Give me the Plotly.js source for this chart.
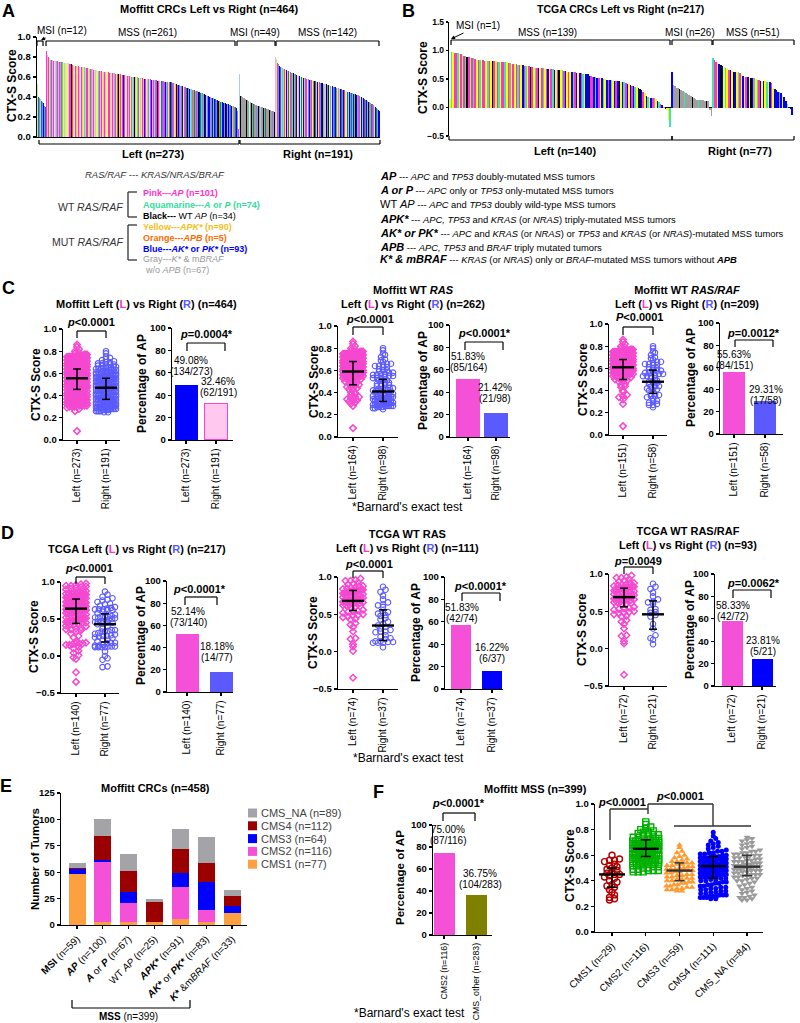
<!DOCTYPE html>
<html>
<head>
<meta charset="utf-8">
<script src="https://cdn.plot.ly/plotly-3.0.1.min.js"></script>
<style>html,body{margin:0;padding:0;background:#fff}#chart{width:800px;height:1023px}</style>
</head>
<body>
<div id="chart"></div>
<script>
// ================= DATA =================
// Panel A : Moffitt CTX-S scores per tumour (waterfall order) + mutation-group code per tumour
const moffittLeftMSI = [.53,.41,.40,.39,.38,.37,.36,.35,.34,.33,.31,.30];
const moffittLeftMSIType = "LBTbcBTbBcbT";
const moffittLeftMSS = [.86,.84,.82,.80,.79,.78,
.77,.77,.77,.76,.76,.76,.76,.76,.76,.76,
.75,.75,.75,.75,.75,.75,.75,.74,.74,.74,.74,.74,.74,.74,.74,
.73,.73,.73,.73,.72,.72,.72,.72,.72,.71,.71,.71,.71,.71,.70,.70,.70,.70,.70,.70,.70,.70,
.69,.69,.69,.69,.69,.68,.68,.68,.68,.68,.68,.67,.67,.67,.67,.67,.66,.66,.66,.66,.66,.66,.66,
.65,.65,.65,.65,.65,.65,.65,.65,.65,.64,.64,.64,.64,.64,.64,.64,.64,.64,
.63,.63,.63,.63,.63,.63,.63,.62,.62,.62,.62,.62,.62,.62,.61,.61,.61,.61,.61,.61,.61,.60,.60,.60,.60,.60,.60,.60,
.60,.60,.59,.59,.59,.59,.59,.59,.59,.59,.58,.58,.58,.58,
.58,.58,.58,.58,.58,.58,.57,.57,.57,.57,.57,.57,.57,.57,.57,.56,.56,.56,.56,.56,.56,.56,.56,.56,.55,.55,.55,.55,.55,.55,.55,.55,
.55,.55,.54,.54,.54,.54,.53,.53,.53,.53,.52,.52,.52,.52,.51,.51,.51,.51,.50,.50,.50,.50,.49,.49,.49,.49,.48,
.48,.48,.48,.47,.47,.47,.47,.46,.46,.46,.46,.45,.45,.45,.44,.44,.44,.43,.43,
.43,.42,.42,.42,.41,.41,.41,.40,.40,.40,.39,.39,.39,.38,
.38,.38,.37,.37,.37,.36,.36,.36,.35,.35,.35,.35,.34,.34,
.34,.34,.33,.33,.33,.33,.32,.32,.32,.31,.31,.31,.30,.30,
.30,.29,.28,.26,.08];
const moffittLeftMSSType = "PPpPLpAPpYPaPpAPYpPA"+"pPAYPpLaPYpPAPKpPYaP"+"PpYAPpaLPpYPAgPpPYAp"+"PAYpPLPpaYPAPpGPYpAP"+
"pPYaPAPpLYPpAbPYPaKp"+"PAYPpBPaYLPpAPYbPpAK"+"PpYAbPaPcYPLpBPAYpbP"+"aPBYpPcAbPYKPpBaTPYb"+"PBpAbYGPBTaPbYBpKcPB"+
"bAAPBcYbPBTKbpBcABbO"+"BTGPBbKBcTAbBGKBYcbB"+"TBGKbBAGBTbcBKOBTABc"+"BbKTBGGBbTKBcOGbTBKb"+"P";
const moffittRightMSI = [.63,.42,.41,.41,.40,.40,.39,.39,.38,.38,.37,.37,.36,.36,.35,.35,.35,.34,.34,.33,
.33,.33,.32,.32,.32,.31,.31,.31,.31,.30,.30,.30,.30,.29,.29,.29,.29,.28,.28,.28,.28,.27,.27,.27,.26,.26,.26,.25,.25];
const moffittRightMSIType = "cGKGGTGGbGKGGGaGGKGTGGGbGGKGGcGGGKGGTGGaGKGGGbGTK";
const moffittRightMSS = [.80,.78,.75,.74,.73,.72,.71,.70,.70,.69,
.69,.68,.68,.67,.67,.67,.66,.66,.66,.65,
.65,.65,.64,.64,.64,.63,.63,.63,.62,.62,
.62,.61,.61,.61,.60,.60,.60,.60,.59,.59,
.59,.59,.58,.58,.58,.58,.57,.57,.57,.57,
.57,.56,.56,.56,.56,.56,.55,.55,.55,.55,
.55,.54,.54,.54,.54,.53,.53,.53,.53,.53,
.52,.52,.52,.52,.51,.51,.51,.51,.50,.50,
.50,.50,.49,.49,.49,.49,.48,.48,.48,.48,
.47,.47,.47,.47,.46,.46,.46,.46,.45,.45,
.45,.44,.44,.44,.44,.43,.43,.43,.43,.42,
.42,.42,.42,.41,.41,.40,.40,.40,.39,.39,
.38,.38,.37,.37,.36,.36,.35,.35,.34,.34,
.33,.33,.32,.32,.31,.30,.30,.29,.28,.27,
.27,.26];
const moffittRightMSSType = "pLaPbPBTpYAcPbYBpaTY"+"PBbAKTAPcBYpbBaTPYBc"+"BPPaTbBGcPYBbKTApBYc"+"PbBTKAcBpKbTBYPGaBcb"+
"TBPbYGApBTKbBPGYaBTc"+"BPbTAYBGKpBGbTPaBYcB"+"bTPBGAKbBGTPYbaBcTGB"+"KB";

// Panel B : TCGA CTX-S scores
const tcgaLeftMSI = [.15];
const tcgaLeftMSIType = "Y";
const tcgaLeftMSS = [.98,.97,.96,.95,.95,.94,.93,.92,.91,.90,
.88,.88,.87,.86,.86,.85,.84,.84,.83,.83,
.83,.82,.82,.82,.82,.81,.81,.81,.81,.80,
.80,.80,.80,.79,.79,.79,.78,.78,.77,.77,
.77,.76,.75,.75,.74,.74,.73,.73,.72,.72,
.71,.71,.70,.70,.70,.69,.69,.69,.69,.68,
.68,.68,.68,.67,.67,.66,.66,.66,.65,.65,
.65,.64,.64,.63,.63,.63,.62,.62,.62,.61,
.61,.60,.60,.59,.59,.58,.58,.56,.55,.54,
.53,.53,.52,.52,.51,.51,.50,.50,.49,.49,
.48,.48,.47,.47,.47,.46,.46,.45,.45,.44,
.43,.42,.41,.40,.38,.37,.36,.36,.35,.33,
.30,.27,.25,.20,.18,.17,.17,.17,.16,.15,
.12,.10,.07,.04,.01,-.02,-.04,-.22,-.35];
const tcgaLeftMSSType = "AYPPAYPYPAKPYPAPYPAY"+"PPYAPYKPYPAYPPAYPGYP"+"YPAPYBPAYPKPYAPBYPAY"+"PBYPABYPKYAPBYPYBAPB"+
"YBPAYBBKPPBABPYBAYBP"+"BAYBPBKYBAPBYBPBAYBK"+"BPYBAYBPHYBAPBOBYYA";
const tcgaRightMSI = [.62,.40,.37,.35,.35,.33,.31,.29,.27,.26,.24,.22,.20,.18,.17,.15,.14,.14,.13,.13,.13,.12,.12,.12,-.05,-.15];
const tcgaRightMSIType = "BGGHGKGGAGHGGKGHGAGGHGKGHH";
const tcgaRightMSS = [.87,.83,.80,.78,.76,.75,.73,.71,.70,.68,
.66,.65,.64,.63,.63,.63,.62,.60,.58,.56,
.54,.53,.53,.52,.52,.52,.51,.50,.49,.48,
.47,.47,.46,.46,.45,.45,.44,.43,.34,.33,
.30,.28,.27,.25,.22,.18,.12,.06,.00,-.03,-.14];
const tcgaRightMSSType = "APPYBKBYAYPBYKBYAPYB"+"YPBYKBGYAPBYBYAYBPYB"+"BBGBYBBABBB";

const statC1 = [[.556,.456,.64],[.471,.366,.556]];
const statC3 = [[.59,.47,.68],[.41,.32,.52]];
const statC5 = [[.61,.50,.68],[.48,.375,.585]];
const statD1 = [[.64,.44,.77],[.43,.19,.57]];
const statD3 = [[.68,.55,.82],[.35,.15,.56]];
const statD5 = [[.69,.56,.81],[.46,.26,.64]];
const statF  = [[.45,.35,.50],[.65,.59,.72],[.48,.40,.54],[.515,.42,.59],[.51,.44,.60]];

// Percentage of AP bars
const pctC1 = [49.08,32.46], pctC1Lab = [['49.08%','(134/273)'],['32.46%','(62/191)']];
const pctC3 = [51.83,21.42], pctC3Lab = [['51.83%','(85/164)'],['21.42%','(21/98)']];
const pctC5 = [55.63,29.31], pctC5Lab = [['55.63%','(84/151)'],['29.31%','(17/58)']];
const pctD1 = [52.14,18.18], pctD1Lab = [['52.14%','(73/140)'],['18.18%','(14/77)']];
const pctD3 = [56.76,16.22], pctD3Lab = [['51.83%','(42/74)'],['16.22%','(6/37)']];
const pctD5 = [58.33,23.81], pctD5Lab = [['58.33%','(42/72)'],['23.81%','(5/21)']];
const pctF  = [75.00,36.75], pctFLab  = [['75.00%','(87/116)'],['36.75%','(104/283)']];

// Panel E : stacked counts
const eCategories = ['<b>MSI</b> (n=59)','<b><i>AP</i></b> (n=100)','<b><i>A</i></b> or <b><i>P</i></b> (n=67)','WT <i>AP</i> (n=25)',
  '<b><i>APK*</i></b> (n=91)','<b><i>AK*</i></b> or <b><i>PK*</i></b> (n=83)','<b><i>K*</i></b> &amp;m<i>BRAF</i> (n=33)'];
const cms1  = [48,3,3,3,6,3,11];
const cms2  = [0,57,18,0,30,11,0];
const cms3  = [5,2,10,0,13,27,7];
const cms4  = [1,22,20,19,23,18,9];
const cmsNA = [5,16,16,3,19,24,6];
const cmsLegend = ['CMS_NA (n=89)','CMS4 (n=112)','CMS3 (n=64)','CMS2 (n=116)','CMS1 (n=77)'];

// Panel F : CTX-S by CMS (MSS)
const fCMS1 = [.60,.57,.56,.56,.55,.53,.52,.51,.50,.49,.48,.47,.46,.45,.45,.44,.43,.42,.40,.39,.37,.36,.35,.33,.31,.29,.27,.26,.25];
const fCMS2 = [.86,.84,.82,.81,.80,.79,.78,.78,.77,.76,.76,.75,.75,.74,.74,.73,.73,.73,.72,.72,
.72,.71,.71,.71,.71,.70,.70,.70,.70,.69,.69,.69,.69,.68,.68,.68,.68,.68,.67,.67,
.67,.67,.67,.66,.66,.66,.66,.66,.66,.65,.65,.65,.65,.65,.65,.64,.64,.64,.64,.64,
.63,.63,.63,.63,.63,.62,.62,.62,.62,.62,.61,.61,.61,.61,.60,.60,.60,.60,.60,.59,
.59,.59,.59,.58,.58,.58,.58,.57,.57,.57,.56,.56,.56,.55,.55,.55,.54,.54,.54,.53,
.53,.53,.52,.52,.51,.51,.50,.50,.49,.49,.48,.48,.48,.47,.47,.47];
const fCMS3 = [.68,.66,.63,.62,.60,.59,.58,.57,.56,.55,.55,.54,.54,.53,.53,.52,.52,.51,.51,.50,
.50,.49,.49,.49,.48,.48,.48,.47,.47,.46,.46,.45,.45,.44,.44,.43,.43,.42,.42,.41,
.41,.40,.40,.39,.39,.38,.38,.37,.37,.36,.36,.35,.35,.34,.34,.33,.33,.32,.32];
const fCMS4 = [.78,.75,.73,.71,.70,.69,.68,.67,.66,.65,.64,.63,.63,.62,.62,.61,.61,.60,.60,.59,
.59,.59,.58,.58,.58,.57,.57,.57,.56,.56,.56,.55,.55,.55,.54,.54,.54,.53,.53,.53,
.53,.52,.52,.52,.52,.51,.51,.51,.51,.50,.50,.50,.50,.49,.49,.49,.48,.48,.48,.47,
.47,.47,.46,.46,.46,.45,.45,.45,.44,.44,.44,.43,.43,.43,.42,.42,.41,.41,.40,.40,
.39,.39,.38,.38,.37,.37,.36,.36,.35,.35,.34,.34,.33,.33,.32,.32,.31,.31,.30,.30,
.29,.29,.29,.28,.28,.28,.27,.27,.27,.26,.26];
const fCMSNA = [.74,.73,.72,.71,.70,.69,.68,.67,.66,.65,.64,.63,.63,.62,.62,.61,.61,.60,.60,.59,
.59,.58,.58,.57,.57,.56,.56,.55,.55,.55,.54,.54,.54,.53,.53,.53,.52,.52,.52,.51,
.51,.51,.50,.50,.50,.49,.49,.49,.48,.48,.48,.47,.47,.46,.46,.45,.45,.45,.44,.44,
.43,.43,.42,.42,.41,.40,.40,.39,.38,.37,.36,.35,.34,.33,.32,.31,.30,.29,.28,.27,
.27,.26,.25,.25];
const fCats = ['CMS1 (n=29)','CMS2 (n=116)','CMS3 (n=59)','CMS4 (n=111)','CMS_NA (n=84)'];

// ================= STYLE / HELPERS =================
const PAL={P:'#ff33cc',p:'#ffaaee',A:'#3de6b0',a:'#b0ffe0',K:'#000000',L:'#b4ff64',Y:'#ffff00',O:'#ff8c00',
  B:'#0000ff',b:'#8282ff',c:'#a8c8ff',T:'#1a7f70',G:'#a0a0a0',g:'#cccccc',H:'#a0a0a0'};
const WT_RAS='PpAaKLOGg', WT_RASRAF='PpAaKL';
const FONT='"Liberation Sans", Arial, Helvetica, sans-serif';
const W=800,H=1023;
const PX=x=>x/W, PY=y=>1-y/H;
const layout={width:W,height:H,margin:{l:0,r:0,t:0,b:0,pad:0},showlegend:false,barmode:'stack',bargap:0,
  paper_bgcolor:'#ffffff',plot_bgcolor:'rgba(0,0,0,0)',font:{family:FONT,color:'#000',size:10},
  annotations:[],shapes:[]};
const traces=[];
let nAx=0;
function axes(o){
  nAx++; const s=nAx===1?'':String(nAx);
  const base={showgrid:false,zeroline:false,showline:true,linecolor:'#000',linewidth:1.3,
    ticks:'outside',ticklen:3,tickwidth:1.3,tickcolor:'#000',
    tickfont:{family:FONT,size:10,color:'#000'},fixedrange:true,automargin:false};
  layout['xaxis'+s]=Object.assign({},base,{domain:[PX(o.x0),PX(o.x1)],range:o.xr,anchor:'y'+s},o.xo||{});
  layout['yaxis'+s]=Object.assign({},base,{domain:[PY(o.yb),PY(o.yt)],range:o.yr,anchor:'x'+s},o.yo||{});
  return {x:'x'+s,y:'y'+s,uY:(o.yb-o.yt)/(o.yr[1]-o.yr[0]),uX:(o.x1-o.x0)/(o.xr[1]-o.xr[0])};
}
function catAxes(o){
  const u=(o.cL-o.c0)/(o.n-1);
  return axes({x0:o.x0,x1:o.x1,xr:[(o.x0-o.c0)/u,(o.n-1)+(o.x1-o.cL)/u],yb:o.yb,yt:o.yt,yr:o.yr,
    xo:{tickmode:'array',tickvals:[...Array(o.n).keys()],ticktext:o.labels,tickangle:(o.angle===undefined?-90:o.angle),
        tickfont:{family:FONT,size:o.xsize||10,color:'#000'}},
    yo:{tickmode:'array',tickvals:o.ticks,tickformat:o.fmt||'',tickfont:{family:FONT,size:9.5,color:'#000',weight:'bold'}}});
}
function T(x,y,t,o){o=o||{};layout.annotations.push({xref:'paper',yref:'paper',x:PX(x),y:PY(y),text:t,showarrow:false,
  xanchor:o.xa||'center',yanchor:o.ya||'middle',textangle:o.rot||0,align:o.align||'center',
  font:{family:FONT,size:o.size||10,color:o.color||'#000'}});}
function T2(x,y,lines){T(x,y-5.3,lines[0]);T(x,y+5.3,lines[1]);}
function L(x0,y0,x1,y1,w,c){layout.shapes.push({type:'line',xref:'paper',yref:'paper',x0:PX(x0),y0:PY(y0),x1:PX(x1),y1:PY(y1),line:{color:c||'#000',width:w||1.2}});}
function BR(x0,x1,y,leg,w){L(x0,y+leg,x0,y,w);L(x0,y,x1,y,w);L(x1,y,x1,y+leg,w);}
function S(ax,x0,y0,x1,y1,w,c){layout.shapes.push({type:'line',xref:ax.x,yref:ax.y,x0:x0,y0:y0,x1:x1,y1:y1,line:{color:c||'#000',width:w}});}
const pv=s=>'<b><i>p</i>'+s+'</b>';

function waterfall(ax,groups){
  const xs=[],ys=[],cs=[];
  groups.forEach(g=>{g[0].forEach((v,i)=>{xs.push(xs.length);ys.push(v);cs.push(PAL[g[1][i]]||'#a0a0a0');});});
  traces.push({type:'bar',x:xs,y:ys,marker:{color:cs,line:{width:0}},xaxis:ax.x,yaxis:ax.y,hoverinfo:'skip'});
}
function swarm(vals,pos,ax,o){
  const order=vals.map((v,i)=>i).sort((a,b)=>vals[a]-vals[b]);
  const bins=new Map();
  order.forEach(i=>{const k=Math.round(vals[i]*ax.uY/o.bin);if(!bins.has(k))bins.set(k,[]);bins.get(k).push(i);});
  const xs=new Array(vals.length);
  bins.forEach(arr=>{const n=arr.length;const st=n>1?Math.min(o.step,2*o.half/(n-1)):0;
    arr.forEach((i,j)=>{xs[i]=pos+(j-(n-1)/2)*st/ax.uX;});});
  return xs;
}
function dotPlot(ax,groups,o){
  groups.forEach((g,k)=>{
    traces.push({type:'scatter',mode:'markers',x:swarm(g.vals,k,ax,o),y:g.vals,marker:g.marker,
      xaxis:ax.x,yaxis:ax.y,hoverinfo:'skip',cliponaxis:false});
  });
  groups.forEach((g,k)=>{
    const m=g.stat[0],lo=g.stat[1],hi=g.stat[2],hw=o.mean/ax.uX,cw=o.cap/ax.uX,c=g.sc||'#000';
    S(ax,k-hw,m,k+hw,m,2.4,c);S(ax,k,lo,k,hi,1.5,c);S(ax,k-cw,lo,k+cw,lo,1.5,c);S(ax,k-cw,hi,k+cw,hi,1.5,c);
  });
}
function pctBars(o){
  const ax=catAxes({x0:o.x0,x1:o.x1,c0:o.c0,cL:o.c1,n:2,yb:o.yb,yt:o.yt,yr:[0,100],ticks:[0,20,40,60,80,100],labels:o.labels,xsize:o.xsize});
  const u=ax.uX;
  traces.push({type:'bar',x:[0,1],y:o.vals,width:[o.w/u,o.w/u],xaxis:ax.x,yaxis:ax.y,hoverinfo:'skip',
    marker:{color:o.colors,line:{color:o.lines||o.colors,width:o.lw||[0,0]}}});
  return ax;
}
const pick=(vals,types,set)=>vals.filter((v,i)=>set.indexOf(types[i])>=0);
const LEFTMK={symbol:'diamond-open',size:5,color:'#f548d0',line:{width:1.5}};
const RIGHTMK={symbol:'circle-open',size:5.5,color:'#5a5aff',line:{width:1.1}};

// ================= PANEL A =================
T(8,11,'<b>A</b>',{size:18});
T(209,9,'<b>Moffitt CRCs Left vs Right (n=464)</b>',{size:11});
const axA=axes({x0:37,x1:380,xr:[-0.5,463.5],yb:137,yt:37,yr:[0,1],
  xo:{showticklabels:false,ticks:''},
  yo:{tickmode:'array',tickvals:[0,.2,.4,.6,.8,1],tickformat:'.1f',ticklen:3,tickfont:{family:FONT,size:9.5,color:'#000',weight:'bold'}}});
waterfall(axA,[[moffittLeftMSI,moffittLeftMSIType],[moffittLeftMSS,moffittLeftMSSType],[moffittRightMSI,moffittRightMSIType],[moffittRightMSS,moffittRightMSSType]]);
T(12,86,'<b>CTX-S Score</b>',{size:12,rot:-90});
BR(37,43,41,5);BR(46,235,41,5);BR(237,275,41,5);BR(276,379,41,5);
T(147,33,'MSS (n=261)');T(255,33,'MSI (n=49)');T(327,33,'MSS (n=142)');
layout.annotations.push({xref:'paper',yref:'paper',x:PX(41),y:PY(40),text:'MSI (n=12)',showarrow:true,ax:21,ay:-9,
  arrowhead:2,arrowsize:0.8,arrowwidth:1,arrowcolor:'#000',font:{family:FONT,size:10,color:'#000'}});
BR(39,239,144,-4);BR(240,380,144,-4);
T(153,154,'<b>Left (n=273)</b>',{size:11});T(318,154,'<b>Right (n=191)</b>',{size:11});

// ================= PANEL B =================
T(408,11,'<b>B</b>',{size:18});
T(620,9,'<b>TCGA CRCs Left vs Right (n=217)</b>',{size:10.5});
const axB=axes({x0:449,x1:793,xr:[-0.5,216.5],yb:136,yt:22,yr:[-0.5,1.5],
  xo:{showline:false,showticklabels:false,ticks:''},
  yo:{tickmode:'array',tickvals:[-0.5,0,0.5,1,1.5],tickformat:'.1f',zeroline:true,zerolinecolor:'#000',zerolinewidth:1.3,ticklen:2,
      tickfont:{family:FONT,size:8.5,color:'#000',weight:'bold'}}});
waterfall(axB,[[tcgaLeftMSI,tcgaLeftMSIType],[tcgaLeftMSS,tcgaLeftMSSType],[tcgaRightMSI,tcgaRightMSIType],[tcgaRightMSS,tcgaRightMSSType]]);
T(423,78,'<b>CTX-S Score</b>',{size:12,rot:-90});
BR(451,670,40,5);BR(672,712,40,5);BR(713,794,40,5);
T(547,33,'MSS (n=139)');T(690,33,'MSI (n=26)');T(753,33,'MSS (n=51)');
layout.annotations.push({xref:'paper',yref:'paper',x:PX(451),y:PY(39),text:'MSI (n=1)',showarrow:true,ax:27,ay:-13,
  arrowhead:2,arrowsize:0.8,arrowwidth:1,arrowcolor:'#000',font:{family:FONT,size:10,color:'#000'}});
BR(449,672,140,-4);BR(672,794,140,-4);
T(565,151,'<b>Left (n=140)</b>',{size:11});T(740,151,'<b>Right (n=77)</b>',{size:11});

// ================= LEGEND TEXT =================
T(155,175,'<i>RAS/RAF</i> --- <i>KRAS/NRAS/BRAF</i>',{size:9.5,color:'#333'});
T(90,207,'WT <i>RAS/RAF</i>',{size:10.5,color:'#333'});
T(88,242,'MUT <i>RAS/RAF</i>',{size:10.5,color:'#333'});
L(128,192,128,217,1.3,'#333');L(128,192,137,192,1.3,'#333');L(128,217,137,217,1.3,'#333');
L(128,225,128,260,1.3,'#333');L(128,225,137,225,1.3,'#333');L(128,260,137,260,1.3,'#333');
const legL=[['<b>Pink---<i>AP</i> (n=101)</b>','#ff33cc',193],['<b>Aquamarine---<i>A</i> or <i>P</i> (n=74)</b>','#33dd9e',205],
 ['<b>Black---</b> WT <i>AP</i> (n=34)','#000',216],['<b>Yellow---<i>APK*</i> (n=90)</b>','#f2c01e',227],
 ['<b>Orange---<i>APB</i> (n=5)</b>','#ff6a00',238],['<b>Blue---<i>AK*</i> or <i>PK*</i> (n=93)</b>','#0000ff',249],
 ['Gray---<i>K*</i> &amp; m<i>BRAF</i>','#999',259],['w/o <i>APB</i> (n=67)','#999',270]];
legL.forEach((e,i)=>T(i===7?143:141,e[2],e[0],{size:9,color:e[1],xa:'left'}));
const sm=t=>'<span style="font-size:9.4px">'+t+'</span>';
const legR=[['<b><i>AP</i></b>',sm(' --- <i>APC</i> and <i>TP53</i> doubly-mutated MSS tumors'),176],
 ['<b><i>A or P</i></b>',sm(' --- <i>APC</i> only or <i>TP53</i> only-mutated MSS tumors'),190],
 ['WT <i>AP</i>',sm(' --- <i>APC</i> and <i>TP53</i> doubly wild-type MSS tumors'),204],
 ['<b><i>APK*</i></b>',sm(' --- <i>APC, TP53</i> and <i>KRAS</i> (or <i>NRAS</i>) triply-mutated MSS tumors'),219],
 ['<b><i>AK* or PK*</i></b>',sm(' --- <i>APC</i> and <i>KRAS</i> (or <i>NRAS</i>) or <i>TP53</i> and <i>KRAS</i> (or <i>NRAS</i>)-mutated MSS tumors'),233],
 ['<b><i>APB</i></b>',sm(' --- <i>APC, TP53</i> and <i>BRAF</i> triply mutated tumors'),247],
 ['<b><i>K* &amp; mBRAF</i></b>',sm(' --- <i>KRAS</i> (or <i>NRAS</i>) only or <i>BRAF</i>-mutated MSS tumors without <b><i>APB</i></b>'),259]];
legR.forEach(e=>T(378,e[2],e[0]+e[1],{size:11,xa:'left'}));

// ================= PANEL C =================
T(8,288,'<b>C</b>',{size:18});
const LR=n=>'Left (<span style="color:#ff33cc">L</span>) vs Right (<span style="color:#5a5aff">R</span>) (n='+n+')';
T(146,304,'<b>Moffitt '+LR(464)+'</b>',{size:11});
T(413,297,'<b>Moffitt WT <i>RAS</i><br>'+LR(262)+'</b>',{size:11});
T(687,297,'<b>Moffitt WT <i>RAS/RAF</i><br>'+LR(209)+'</b>',{size:11});
const mLeft=moffittLeftMSI.concat(moffittLeftMSS), mLeftT=moffittLeftMSIType+moffittLeftMSSType;
const mRight=moffittRightMSI.concat(moffittRightMSS), mRightT=moffittRightMSIType+moffittRightMSSType;
const swC={bin:3,step:4,half:10,mean:11,cap:4};
const ticks01=[0,.2,.4,.6,.8,1];
// C1
let ax=catAxes({x0:63,x1:120,c0:77,cL:106,n:2,yb:440,yt:329,yr:[0,1],ticks:ticks01,fmt:'.1f',labels:['Left (n=273)','Right (n=191)']});
dotPlot(ax,[{vals:mLeft,marker:LEFTMK,stat:statC1[0]},{vals:mRight,marker:RIGHTMK,stat:statC1[1]}],swC);
T(36,385,'<b>CTX-S Score</b>',{size:12,rot:-90});
T(91,322,pv('&lt;0.0001'),{size:11});BR(77,106,331,7);
pctBars({x0:172,x1:233,c0:186,c1:216,w:23,yb:440,yt:328,vals:pctC1,colors:['#0000ff','#ffc8ee'],lines:['#0000ff','#ff44cc'],lw:[0,1.6],labels:['Left (n=273)','Right (n=191)']});
T(142,384,'<b>Percentage of AP</b>',{size:12,rot:-90});
T(207,334,pv('=0.0004*'),{size:11});BR(187,225,343,8);
T2(191,366,pctC1Lab[0]);T2(218,387,pctC1Lab[1]);
// C3
ax=catAxes({x0:338,x1:398,c0:353,cL:383,n:2,yb:437,yt:326,yr:[0,1],ticks:ticks01,fmt:'.1f',labels:['Left (n=164)','Right (n=98)']});
dotPlot(ax,[{vals:pick(mLeft,mLeftT,WT_RAS),marker:LEFTMK,stat:statC3[0]},{vals:pick(mRight,mRightT,WT_RAS),marker:RIGHTMK,stat:statC3[1]}],swC);
T(314,382,'<b>CTX-S Score</b>',{size:12,rot:-90});
T(370,319,pv('&lt;0.0001'),{size:11});BR(353,383,327,8);
pctBars({x0:450,x1:510,c0:468,c1:496,w:24,yb:437,yt:325,vals:pctC3,colors:['#f550d8','#5a5aff'],labels:['Left (n=164)','Right (n=98)']});
T(423,381,'<b>Percentage of AP</b>',{size:12,rot:-90});
T(484,333,pv('&lt;0.0001*'),{size:11});BR(465,503,342,8);
T2(468,362,pctC3Lab[0]);T2(495,393,pctC3Lab[1]);
// C5
ax=catAxes({x0:609,x1:667,c0:623,cL:653,n:2,yb:435,yt:324,yr:[0,1],ticks:ticks01,fmt:'.1f',labels:['Left (n=151)','Right (n=58)']});
dotPlot(ax,[{vals:pick(mLeft,mLeftT,WT_RASRAF),marker:LEFTMK,stat:statC5[0]},{vals:pick(mRight,mRightT,WT_RASRAF),marker:RIGHTMK,stat:statC5[1]}],swC);
T(583,380,'<b>CTX-S Score</b>',{size:12,rot:-90});
T(639,317,'<b><i>P</i>&lt;0.0001</b>',{size:11});BR(623,653,327,8);
pctBars({x0:720,x1:783,c0:734,c1:765,w:22,yb:434,yt:323,vals:pctC5,colors:['#f550d8','#5a5aff'],labels:['Left (n=151)','Right (n=58)']});
T(691,378,'<b>Percentage of AP</b>',{size:12,rot:-90});
T(753,333,pv('=0.0012*'),{size:11});BR(735,773,340,7);
T2(734,360,pctC5Lab[0]);T2(766,395,pctC5Lab[1]);
T(407,507,"*Barnard's exact test",{size:12});

// ================= PANEL D =================
T(7,533,'<b>D</b>',{size:18});
T(137,549,'<b>TCGA '+LR(217)+'</b>',{size:11});
T(407,541,'<b>TCGA WT RAS<br>'+LR(111)+'</b>',{size:11});
T(688,538,'<b>TCGA WT RAS/RAF<br>'+LR(93)+'</b>',{size:11});
const tLeft=tcgaLeftMSI.concat(tcgaLeftMSS), tLeftT=tcgaLeftMSIType+tcgaLeftMSSType;
const tRight=tcgaRightMSI.concat(tcgaRightMSS), tRightT=tcgaRightMSIType+tcgaRightMSSType;
const swD={bin:4,step:5,half:10,mean:11,cap:4};
const ticksD=[-0.5,0,0.5,1];
// D1
ax=catAxes({x0:61,x1:119,c0:76,cL:105,n:2,yb:693,yt:582,yr:[-0.5,1],ticks:ticksD,fmt:'.1f',labels:['Left (n=140)','Right (n=77)']});
dotPlot(ax,[{vals:tLeft,marker:LEFTMK,stat:statD1[0]},{vals:tRight,marker:RIGHTMK,stat:statD1[1]}],swD);
T(34,637,'<b>CTX-S Score</b>',{size:12,rot:-90});
T(89,568,pv('&lt;0.0001'),{size:11});BR(76,105,577,7);
pctBars({x0:167,x1:233,c0:187,c1:221,w:23,yb:692,yt:581,vals:pctD1,colors:['#f550d8','#5a5aff'],labels:['Left (n=140)','Right (n=77)']});
T(141,636,'<b>Percentage of AP</b>',{size:12,rot:-90});
T(199,589,pv('&lt;0.0001*'),{size:11});BR(185,217,597,8);
T2(188,617,pctD1Lab[0]);T2(217,652,pctD1Lab[1]);
// D3
ax=catAxes({x0:338,x1:398,c0:353,cL:383,n:2,yb:689,yt:577,yr:[-0.5,1],ticks:ticksD,fmt:'.1f',labels:['Left (n=74)','Right (n=37)']});
dotPlot(ax,[{vals:pick(tLeft,tLeftT,WT_RAS),marker:LEFTMK,stat:statD3[0]},{vals:pick(tRight,tRightT,WT_RAS),marker:RIGHTMK,stat:statD3[1]}],swD);
T(313,633,'<b>CTX-S Score</b>',{size:12,rot:-90});
T(369,564,pv('&lt;0.0001'),{size:11});BR(353,383,571,7);
pctBars({x0:445,x1:503,c0:461,c1:492,w:20,yb:689,yt:577,vals:pctD3,colors:['#f550d8','#0000ff'],labels:['Left (n=74)','Right (n=37)']});
T(416,633,'<b>Percentage of AP</b>',{size:12,rot:-90});
T(481,586,pv('&lt;0.0001*'),{size:11});BR(462,500,593,8);
T2(462,613,pctD3Lab[0]);T2(492,653,pctD3Lab[1]);
// D5
ax=catAxes({x0:609,x1:667,c0:624,cL:653,n:2,yb:686,yt:574,yr:[-0.5,1],ticks:ticksD,fmt:'.1f',labels:['Left (n=72)','Right (n=21)']});
dotPlot(ax,[{vals:pick(tLeft,tLeftT,WT_RASRAF),marker:LEFTMK,stat:statD5[0]},{vals:pick(tRight,tRightT,WT_RASRAF),marker:RIGHTMK,stat:statD5[1]}],swD);
T(582,630,'<b>CTX-S Score</b>',{size:12,rot:-90});
T(638,561,pv('=0.0049'),{size:11});BR(624,653,567,7);
pctBars({x0:715,x1:776,c0:732,c1:762,w:21,yb:686,yt:574,vals:pctD5,colors:['#f550d8','#0000ff'],labels:['Left (n=72)','Right (n=21)']});
T(690,630,'<b>Percentage of AP</b>',{size:12,rot:-90});
T(753,583,pv('=0.0062*'),{size:11});BR(733,771,590,8);
T2(733,611,pctD5Lab[0]);T2(763,646,pctD5Lab[1]);
T(408,758,"*Barnard's exact test",{size:12});

// ================= PANEL E =================
T(6,786,'<b>E</b>',{size:18});
T(155,788,'<b>Moffitt CRCs (n=458)</b>',{size:11});
const axE=catAxes({x0:61,x1:247,c0:77,cL:232,n:7,yb:925,yt:793,yr:[0,125],ticks:[0,25,50,75,100,125],labels:eCategories,angle:-45});
const eCols=['#ffa040','#f550d8','#0000ff','#9b0000','#a4a4a8'];
[cms1,cms2,cms3,cms4,cmsNA].forEach((arr,k)=>{
  traces.push({type:'bar',x:[0,1,2,3,4,5,6],y:arr,width:17/axE.uX,marker:{color:eCols[k],line:{width:0}},xaxis:axE.x,yaxis:axE.y,hoverinfo:'skip'});
});
T(35,859,'<b>Number of Tumors</b>',{size:11.5,rot:-90});
cmsLegend.forEach((t,i)=>{
  const y=813+12.8*i, col=eCols[4-i];
  layout.shapes.push({type:'rect',xref:'paper',yref:'paper',x0:PX(248),x1:PX(257),y0:PY(y+4.5),y1:PY(y-4.5),fillcolor:col,line:{width:0}});
  T(259,y,t,{size:11,color:'#444',xa:'left'});
});
L(72,1008,190,1008,1.2);L(72,1008,72,1000,1.2);L(190,1008,190,1000,1.2);
T(128,1016,'<b>MSS</b> (n=399)',{size:10});

// ================= PANEL F =================
T(378,792,'<b>F</b>',{size:18});
T(535,789,'<b>Moffitt MSS (n=399)</b>',{size:11});
pctBars({x0:433,x1:492,c0:444,c1:476,w:21,yb:935,yt:825,vals:pctF,colors:['#f550d8','#808000'],labels:['CMS2 (n=116)','CMS_other (n=283)'],xsize:8.8});
T(400,878,'<b>Percentage of AP</b>',{size:11.5,rot:-90});
T(458,803,pv('&lt;0.0001*'),{size:11});BR(443,475,813,8);
T2(448,835,pctFLab[0]);T2(480,879,pctFLab[1]);
T(410,1013,"*Barnard's exact test",{size:12});
const axF=catAxes({x0:595,x1:763,c0:612,cL:747,n:5,yb:932,yt:804,yr:[0,1],ticks:ticks01,fmt:'.1f',labels:fCats,angle:-45,xsize:10});
dotPlot(axF,[
  {vals:fCMS1,marker:{symbol:'circle-open',size:6,color:'#b00000',line:{width:1.4}},stat:statF[0]},
  {vals:fCMS2,marker:{symbol:'square-open',size:6,color:'#00b000',line:{width:1.4}},stat:statF[1]},
  {vals:fCMS3,marker:{symbol:'triangle-up',size:6,color:'#ff9a30'},stat:statF[2],sc:'#333'},
  {vals:fCMS4,marker:{symbol:'circle',size:5,color:'#0000ff'},stat:statF[3]},
  {vals:fCMSNA,marker:{symbol:'triangle-down',size:6,color:'#9a9a9a'},stat:statF[4],sc:'#333'}
],{bin:4,step:5,half:13,mean:13,cap:5});
T(570,866,'<b>CTX-S Score</b>',{size:12,rot:-90});
L(610,809,610,840,1.4,'#333');L(610,809,648,809,1.4,'#333');L(648,804,648,814,1.4,'#333');
L(648,804,713,804,1.4,'#333');L(713,804,713,826,1.4,'#333');L(674,826,751,826,1.4,'#333');
T(622,802,pv('&lt;0.0001'),{size:11});T(680,796,pv('&lt;0.0001'),{size:11});

Plotly.newPlot('chart',traces,layout,{staticPlot:true,displayModeBar:false});
</script>
</body>
</html>
